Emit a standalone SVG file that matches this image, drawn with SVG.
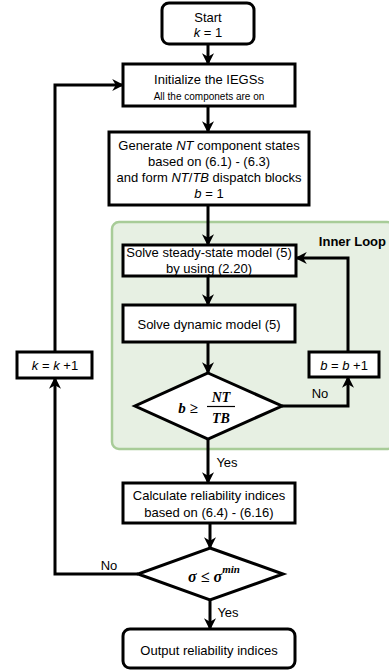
<svg xmlns="http://www.w3.org/2000/svg" width="389" height="672" viewBox="0 0 389 672">
<defs>
<marker id="ah" viewBox="0 0 10 10" refX="9" refY="5" markerWidth="4" markerHeight="4" orient="auto" markerUnits="strokeWidth">
<path d="M0,0 L10,5 L0,10 L3,5 Z" fill="#000"/>
</marker>
<style>
.box{fill:#fff;stroke:#000;stroke-width:3}
.t{font-family:"Liberation Sans",Arial,sans-serif;font-size:13px;fill:#000;text-anchor:middle;dominant-baseline:central}
.s{font-size:10px}
.m{font-family:"Liberation Serif","Times New Roman",serif;font-style:italic;font-weight:bold;fill:#000;text-anchor:middle;dominant-baseline:central}
.c{fill:none;stroke:#000;stroke-width:3}
.ca{fill:none;stroke:#000;stroke-width:3;marker-end:url(#ah)}
</style>
</defs>
<rect width="389" height="672" fill="#fff"/>
<g id="inner-loop">
<rect x="112" y="222" width="282" height="227" rx="7" fill="#e7f0e3" stroke="#a8cc98" stroke-width="2.5"/>
<text x="386" y="241" style="font-family:'Liberation Sans',Arial,sans-serif;font-size:13px;font-weight:bold;text-anchor:end;dominant-baseline:central">Inner Loop</text>
</g>
<g id="connectors">
<line class="ca" x1="208" y1="44" x2="208" y2="64"/>
<line class="ca" x1="208" y1="106" x2="208" y2="132"/>
<line class="ca" x1="208" y1="205" x2="208" y2="245"/>
<line class="ca" x1="208" y1="276" x2="208" y2="305"/>
<line class="ca" x1="208" y1="342" x2="208" y2="373"/>
<polyline class="ca" points="282,406 348,406 348,377"/>
<polyline class="ca" points="348,352 348,258 296,258"/>
<line class="ca" x1="208" y1="439" x2="208" y2="483"/>
<line class="ca" x1="210" y1="523" x2="210" y2="548"/>
<line class="ca" x1="210" y1="600" x2="210" y2="629"/>
<polyline class="ca" points="138,574 55,574 55,378"/>
<polyline class="ca" points="55,352 55,85 123,85"/>
<text class="t" x="320" y="393">No</text>
<text class="t" x="227" y="462">Yes</text>
<text class="t" x="109" y="565">No</text>
<text class="t" x="228" y="612">Yes</text>
</g>
<g id="start">
<rect class="box" x="162" y="3" width="92" height="41" rx="7"/>
<text class="t" x="208" y="17">Start</text>
<text class="t" x="208" y="32"><tspan font-style="italic">k</tspan> = 1</text>
</g>
<g id="init">
<rect class="box" x="123" y="64" width="172" height="42"/>
<text class="t" x="209" y="79">Initialize the IEGSs</text>
<text class="t s" x="209" y="96">All the componets are on</text>
</g>
<g id="generate">
<rect class="box" x="109" y="132" width="200" height="73"/>
<text class="t" x="209" y="145">Generate <tspan font-style="italic">NT</tspan> component states</text>
<text class="t" x="209" y="161">based on (6.1) - (6.3)</text>
<text class="t" x="209" y="177">and form <tspan font-style="italic">NT</tspan>/<tspan font-style="italic">TB</tspan> dispatch blocks</text>
<text class="t" x="209" y="193"><tspan font-style="italic">b</tspan> = 1</text>
</g>
<g id="steady">
<rect class="box" x="123" y="245" width="173" height="31"/>
<text class="t" x="209" y="252">Solve steady-state model (5)</text>
<text class="t" x="209" y="268">by using (2.20)</text>
</g>
<g id="dynamic">
<rect class="box" x="123" y="305" width="172" height="37"/>
<text class="t" x="209" y="324">Solve dynamic model (5)</text>
</g>
<g id="bcheck">
<polygon class="box" points="208,373 282,406 208,439 135,406"/>
<text class="m" x="188" y="408" font-size="15">b ≥</text>
<text class="m" x="221" y="397" font-size="14">NT</text>
<line x1="207" y1="406.5" x2="235" y2="406.5" stroke="#000" stroke-width="1.2"/>
<text class="m" x="221" y="418" font-size="14">TB</text>
</g>
<g id="bincr">
<rect class="box" x="309" y="352" width="70" height="25"/>
<text class="t" x="344" y="365"><tspan font-style="italic">b</tspan> = <tspan font-style="italic">b</tspan> +1</text>
</g>
<g id="kincr">
<rect class="box" x="17" y="352" width="75" height="26"/>
<text class="t" x="55" y="365"><tspan font-style="italic">k</tspan> = <tspan font-style="italic">k</tspan> +1</text>
</g>
<g id="calc">
<rect class="box" x="123" y="483" width="172" height="40"/>
<text class="t" x="209" y="495">Calculate reliability indices</text>
<text class="t" x="209" y="512">based on (6.4) - (6.16)</text>
</g>
<g id="sigma">
<polygon class="box" points="210,548 283,574 210,600 138,574"/>
<text class="m" x="214" y="576" font-size="16">σ ≤ σ<tspan font-size="11" dy="-7">min</tspan></text>
</g>
<g id="output">
<rect class="box" x="123" y="629" width="172" height="39" rx="7"/>
<text class="t" x="209" y="650">Output reliability indices</text>
</g>
</svg>
